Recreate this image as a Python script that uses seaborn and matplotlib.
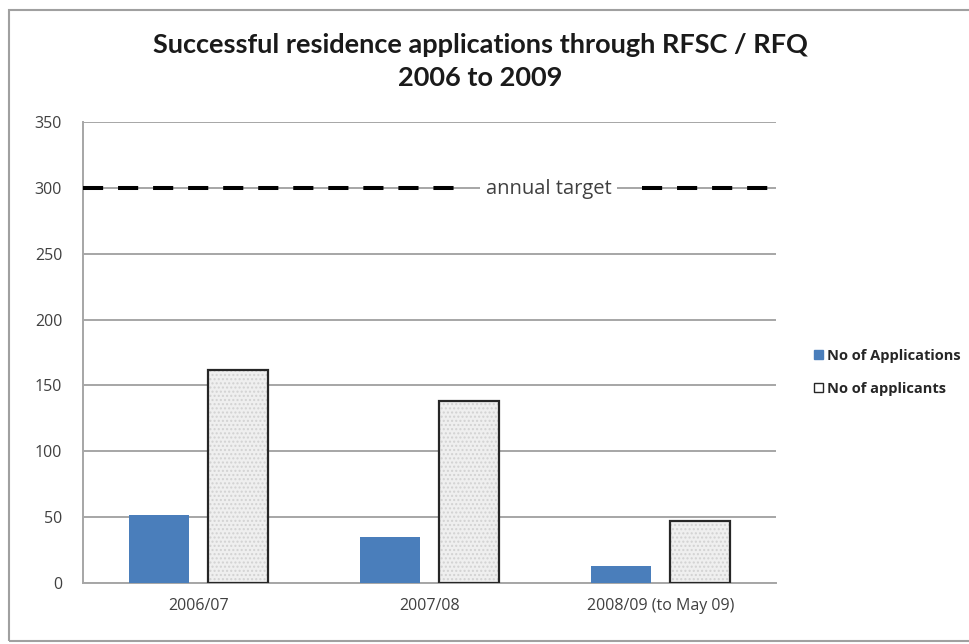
import matplotlib
matplotlib.use("Agg")
import matplotlib.pyplot as plt
from matplotlib.patches import Rectangle, Patch
import seaborn as sns
import pandas as pd

# Chart data
periods = ["2006/07", "2007/08", "2008/09 (to May 09)"]
applications = [52, 35, 13]
applicants = [162, 138, 47]
annual_target = 300
series_names = ["No of Applications", "No of applicants"]
y_ticks = [0, 50, 100, 150, 200, 250, 300, 350]

df = pd.DataFrame({
    "period": periods * 2,
    "series": [series_names[0]] * len(periods) + [series_names[1]] * len(periods),
    "value": applications + applicants,
})

sns.set_theme(style="white")
plt.rcParams["font.family"] = ["Open Sans", "DejaVu Sans"]

BLUE = "#4a7ebb"
STONE = "#efefef"
GRID = "#a6a6a6"
TEXT = "#404040"

fig = plt.figure(figsize=(9.69, 6.44), dpi=100)
ax = fig.add_axes([83 / 969, 1 - 583 / 644, (776 - 83) / 969, (583 - 122) / 644])

sns.barplot(data=df, x="period", y="value", hue="series", order=periods,
            hue_order=series_names, palette=[BLUE, STONE], width=0.685, gap=0.24,
            saturation=1, linewidth=0, legend=False, ax=ax, zorder=3)

# applicant bars: light granite-like texture with a dark outline
n = len(periods)
bars = [p for p in ax.patches if isinstance(p, Rectangle)]
for p in bars[n:2 * n]:
    p.set_facecolor(STONE)
    p.set_edgecolor("#d2d2d2")
    p.set_hatch("....")
    p.set_linewidth(0)
    ax.add_patch(Rectangle(p.get_xy(), p.get_width(), p.get_height(),
                           facecolor="none", edgecolor="#262626", linewidth=1.6, zorder=4))

ax.set_xlim(-0.5, 2.5)
ax.set_ylim(0, 350)
ax.set_yticks(y_ticks)
ax.yaxis.grid(True, color=GRID, linewidth=1.4, zorder=0)
ax.set_axisbelow(True)
ax.set_xlabel("")
ax.set_ylabel("")
ax.tick_params(axis="both", length=0, labelsize=11.5, labelcolor=TEXT)
ax.tick_params(axis="y", pad=15)
ax.tick_params(axis="x", pad=11)
for side in ["top", "right"]:
    ax.spines[side].set_visible(False)
for side in ["left", "bottom"]:
    ax.spines[side].set_color(GRID)
    ax.spines[side].set_linewidth(1.4)

# annual target line, broken around its label
dash = dict(color="black", linewidth=2.9, linestyle=(0, (5.0, 3.7)), zorder=5)
ax.plot([-0.5, 1.12], [annual_target, annual_target], **dash)
ax.plot([1.92, 2.5], [annual_target, annual_target], **dash)
ax.text(1.515, annual_target - 1, "annual target", ha="center", va="center",
        fontsize=14.5, color=TEXT, zorder=6,
        bbox=dict(boxstyle="square,pad=0.3", facecolor="white", edgecolor="none"))

title_font = dict(fontsize=19.5, fontweight="bold", color="#1a1a1a",
                  family=["Lato", "DejaVu Sans"])
fig.text(0.496, 0.930, "Successful residence applications through RFSC / RFQ",
         ha="center", va="center", **title_font)
fig.text(0.496, 0.879, "2006 to 2009", ha="center", va="center", **title_font)

handles = [Patch(facecolor=BLUE, edgecolor=BLUE),
           Patch(facecolor="white", edgecolor="#262626", linewidth=1)]
fig.legend(handles, series_names, loc="center left", bbox_to_anchor=(0.834, 0.422),
           frameon=False, handlelength=0.6, handleheight=0.6,
           handletextpad=0.3, labelspacing=1.3, borderaxespad=0,
           prop={"weight": "bold", "size": 10.5, "family": ["Open Sans", "DejaVu Sans"]})

# chart area border
fig.patches.append(Rectangle((9 / 969, 3 / 644), 1.2, 1 - 13 / 644,
                             transform=fig.transFigure, facecolor="none",
                             edgecolor="#a0a0a0", linewidth=1.5))

fig.savefig("out.png", dpi=100, facecolor="white")
